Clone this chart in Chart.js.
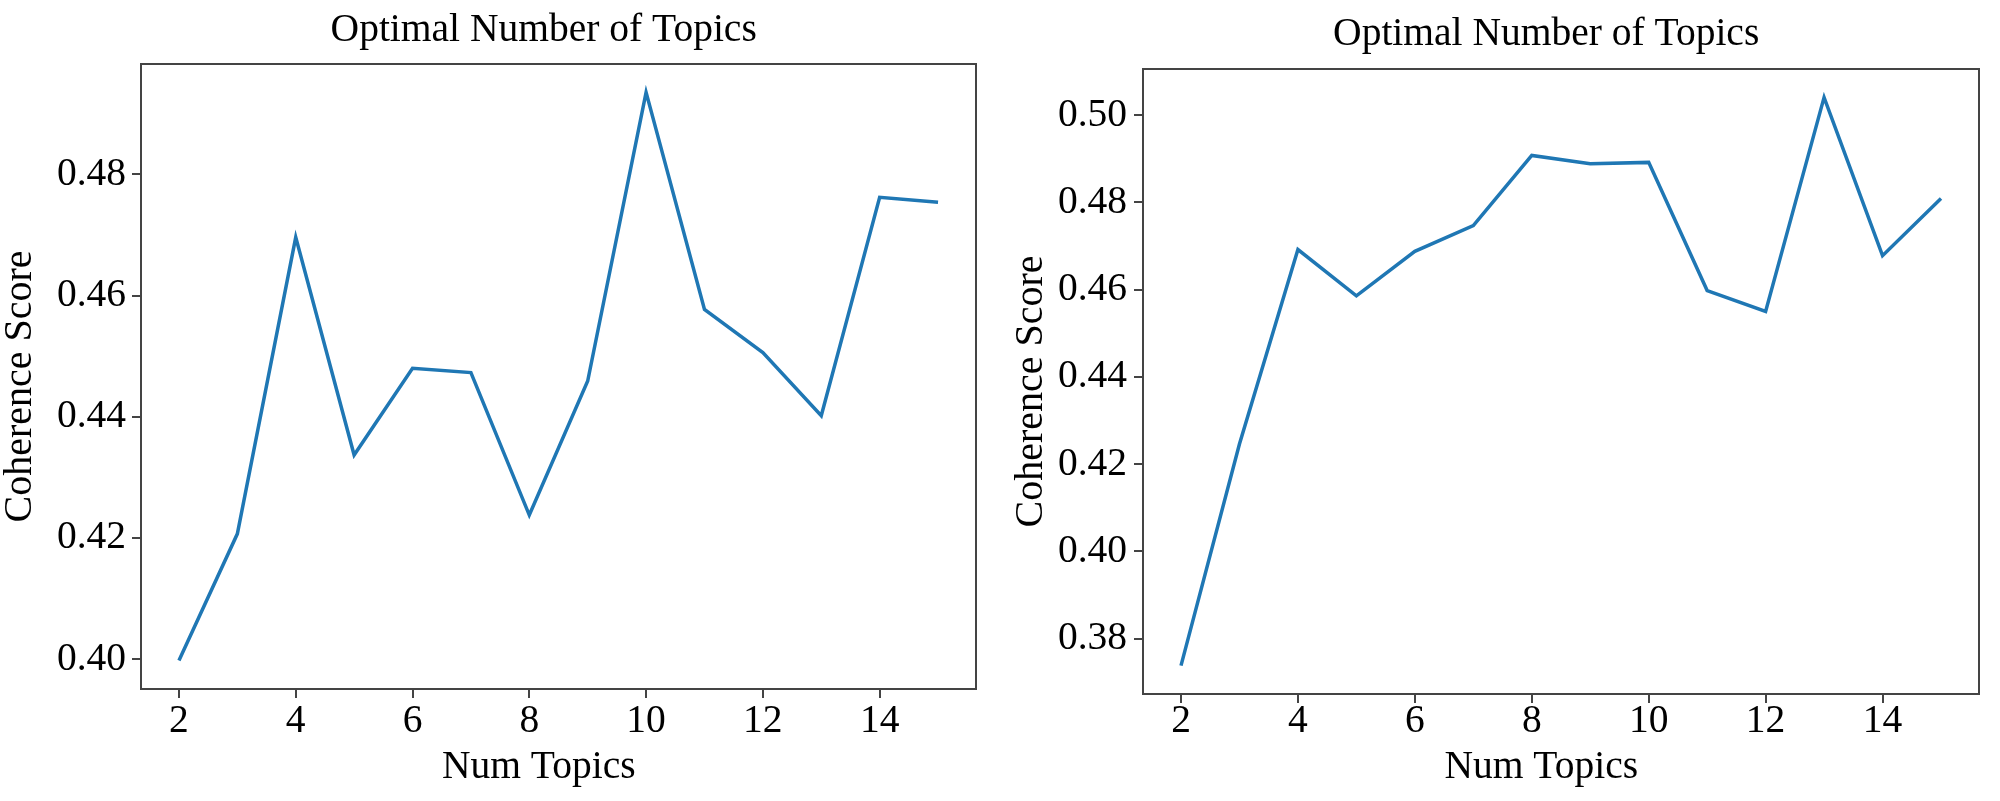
<!DOCTYPE html>
<html>
<head>
<meta charset="utf-8">
<script src="https://cdn.jsdelivr.net/npm/chart.js@4/dist/chart.umd.min.js"></script>
<style>
  body { margin: 0; background: #fff; }
  .box { position: absolute; top: 0; width: 1000px; height: 801px; }
</style>
</head>
<body>
<div class="box" style="left:0"><canvas id="left" width="1000" height="801"></canvas></div>
<div class="box" style="left:1000px"><canvas id="right" width="1000" height="801"></canvas></div>
<script>
var numTopics = [2, 3, 4, 5, 6, 7, 8, 9, 10, 11, 12, 13, 14, 15];
var leftScores = [0.3998, 0.4207, 0.4696, 0.4337, 0.4480, 0.4473, 0.4238, 0.4459, 0.4935, 0.4577, 0.4506, 0.4402, 0.4762, 0.4754];
var rightScores = [0.3738, 0.4246, 0.4692, 0.4586, 0.4688, 0.4747, 0.4908, 0.4889, 0.4892, 0.4598, 0.4550, 0.5041, 0.4678, 0.4809];
var xTicks = [2, 4, 6, 8, 10, 12, 14];
var leftYTicks = [0.40, 0.42, 0.44, 0.46, 0.48];
var rightYTicks = [0.38, 0.40, 0.42, 0.44, 0.46, 0.48, 0.50];

var serif = 'Liberation Serif';

// box round the plot, like matplotlib's spines
var framePlugin = {
    id: 'frame',
    afterDraw: function (chart) {
        var a = chart.chartArea;
        var ctx = chart.ctx;
        ctx.save();
        ctx.strokeStyle = '#444';
        ctx.lineWidth = 2;
        ctx.strokeRect(a.left, a.top, a.right - a.left, a.bottom - a.top);
        ctx.restore();
    }
};

function margin(values) {
    var lo = Math.min.apply(null, values);
    var hi = Math.max.apply(null, values);
    var pad = (hi - lo) * 0.05;
    return [lo - pad, hi + pad];
}

function makeChart(id, scores, yTicks, s) {
    var yRange = margin(scores);
    var xRange = margin(numTopics);
    return new Chart(document.getElementById(id), {
        type: 'line',
        data: {
            datasets: [{
                data: numTopics.map(function (n, i) { return { x: n, y: scores[i] }; }),
                borderColor: '#1f77b4',
                borderWidth: 3.5,
                pointRadius: 0,
                tension: 0,
                fill: false
            }]
        },
        options: {
            responsive: false,
            animation: false,
            devicePixelRatio: 1,
            layout: { padding: { left: 0, right: s.padRight, top: 0, bottom: 0 } },
            plugins: {
                legend: { display: false },
                tooltip: { enabled: false },
                title: {
                    display: true,
                    // trailing spaces nudge the centred titles a little off centre, as in the original
                    text: 'Optimal Number of Topics   ',
                    fullSize: false,
                    color: '#000',
                    font: { family: serif, size: 39.5, weight: 'normal', lineHeight: 1.2 },
                    padding: { top: s.titleTop, bottom: s.titleBottom }
                }
            },
            scales: {
                x: {
                    type: 'linear',
                    min: xRange[0],
                    max: xRange[1],
                    afterFit: function (scale) { scale.height = s.xHeight; },
                    afterBuildTicks: function (scale) {
                        scale.ticks = xTicks.map(function (v) { return { value: v }; });
                    },
                    border: { display: false },
                    grid: { drawOnChartArea: false, tickLength: 9, color: '#444', lineWidth: 2 },
                    ticks: {
                        color: '#000',
                        padding: s.xTickPad,
                        maxRotation: 0,
                        font: { family: serif, size: 39.5, lineHeight: 1.2 }
                    },
                    title: {
                        display: true,
                        text: 'Num Topics    ',
                        color: '#000',
                        font: { family: serif, size: 39.5, lineHeight: 1.2 },
                        padding: { top: 0, bottom: 9.3 }
                    }
                },
                y: {
                    min: yRange[0],
                    max: yRange[1],
                    afterFit: function (scale) { scale.width = s.yWidth; },
                    afterBuildTicks: function (scale) {
                        scale.ticks = yTicks.map(function (v) { return { value: v }; });
                    },
                    border: { display: false },
                    grid: { drawOnChartArea: false, tickLength: 9, color: '#444', lineWidth: 2 },
                    ticks: {
                        color: '#000',
                        padding: s.yTickPad,
                        font: { family: serif, size: 39.5, lineHeight: 1.2 },
                        callback: function (v) { return v.toFixed(2); }
                    },
                    title: {
                        display: true,
                        text: 'Coherence Score  ',
                        color: '#000',
                        font: { family: serif, size: 40, lineHeight: 1.0 },
                        padding: { top: s.yTitlePad, bottom: 0 }
                    }
                }
            }
        },
        plugins: [framePlugin]
    });
}

makeChart('left', leftScores, leftYTicks, {
    padRight: 24, titleTop: 7.3, titleBottom: 9.3,
    xHeight: 112, xTickPad: 0, yWidth: 141, yTickPad: 6, yTitlePad: 0
});
makeChart('right', rightScores, rightYTicks, {
    padRight: 21, titleTop: 11.3, titleBottom: 10.3,
    xHeight: 107, xTickPad: -5, yWidth: 143, yTickPad: 7, yTitlePad: 11
});
</script>
</body>
</html>
